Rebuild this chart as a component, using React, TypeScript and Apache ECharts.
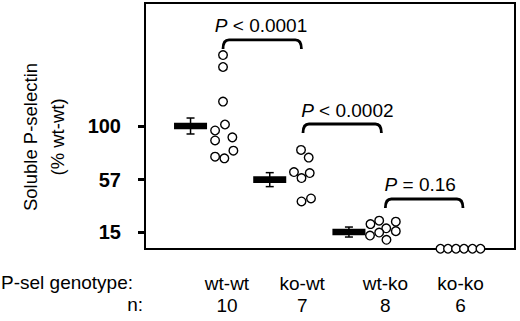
import React, { useEffect, useRef } from "react";
import * as echarts from "echarts";

const FONT = "'Liberation Sans', Arial, Helvetica, sans-serif";

// categories and counts
const genotypes = ["wt-wt", "ko-wt", "wt-ko", "ko-ko"];
const nCounts = [10, 7, 8, 6];
const genotypeLabelPos = [1.05, 2, 3.05, 4];

// y tick labels
const yTicks = [15, 57, 100];

// individual values (% wt-wt) and horizontal jitter (in group units)
const wtwtVals = [156.9, 147.3, 119.6, 101.2, 96.4, 90.9, 88.4, 75.4, 74.1, 80.2];
const wtwtJitter = [0, 0, 0, 0.025, -0.1, 0.118, -0.1, -0.1, 0.017, 0.131];
const kowtVals = [80.8, 74.7, 63.1, 62.3, 58.3, 39.5, 41.9];
const kowtJitter = [-0.015, 0.082, -0.104, 0.095, -0.009, -0.009, 0.111];
const wtkoVals = [21.4, 24.1, 23.3, 18.0, 12.2, 14.6, 15.7, 8.8];
const wtkoJitter = [-0.138, -0.028, 0.182, 0.061, -0.144, -0.028, 0.182, 0.064];
const kokoVals = [1.6, 1.6, 1.6, 1.6, 1.6, 1.6];
const kokoJitter = [-0.254, -0.159, -0.058, 0.043, 0.15, 0.251];

// group means and error (SEM)
const meanGroups = [1, 2, 3];
const meanVals = [100, 57, 15];
const semVals = [6.4, 5.6, 4];

// significance brackets
const bracketFrom = [1.0, 2.01, 3.05];
const bracketTo = [1.99, 3.0, 4.03];
const bracketY = [169, 101.6, 41.5];
const bracketLabelX = [1.48, 2.57, 3.49];
const bracketLabels = ["{i|P} < 0.0001", "{i|P} < 0.0002", "{i|P} = 0.16"];

const BAR_OFFSET = -0.41;
const BAR_WIDTH = 0.417;

function groupPoints(g: number, vals: number[], jit: number[]) {
  return vals.map((v, i) => [g + jit[i], v]);
}

export default function App() {
  const ref = useRef<HTMLDivElement>(null);

  useEffect(() => {
    document.body.style.margin = "0";
    const chart = echarts.init(ref.current!, null, { renderer: "svg" });

    const scatterData = [
      ...groupPoints(1, wtwtVals, wtwtJitter),
      ...groupPoints(2, kowtVals, kowtJitter),
      ...groupPoints(3, wtkoVals, wtkoJitter),
      ...groupPoints(4, kokoVals, kokoJitter),
    ];

    const meanData = meanGroups.map((g, i) => [g + BAR_OFFSET, meanVals[i], semVals[i]]);
    const bracketData = bracketFrom.map((f, i) => [f, bracketTo[i], bracketY[i], bracketLabelX[i], i]);

    const option: any = {
      animation: false,
      backgroundColor: "#fff",
      grid: {
        left: 145,
        right: 5,
        top: 3,
        bottom: 72,
        show: true,
        borderColor: "#000",
        borderWidth: 2,
        containLabel: false,
        outerBoundsMode: "none",
      },
      xAxis: {
        type: "value",
        min: 0.015,
        max: 4.687,
        splitLine: { show: false },
        axisLine: { show: false },
        axisTick: { show: false },
        axisLabel: {
          customValues: genotypeLabelPos,
          margin: 23,
          color: "#000",
          fontSize: 19,
          fontFamily: FONT,
          lineHeight: 22,
          formatter: (v: number) => {
            let idx = 0;
            let best = Infinity;
            genotypeLabelPos.forEach((p, i) => {
              if (Math.abs(p - v) < best) {
                best = Math.abs(p - v);
                idx = i;
              }
            });
            return genotypes[idx] + "\n" + nCounts[idx];
          },
        },
      },
      yAxis: {
        type: "value",
        min: 1.4,
        max: 198.6,
        splitLine: { show: false },
        axisLine: { show: true, lineStyle: { color: "#000", width: 2 } },
        axisTick: {
          show: true,
          customValues: yTicks,
          length: 7,
          lineStyle: { color: "#000", width: 3 },
        },
        axisLabel: {
          customValues: yTicks,
          margin: 24,
          color: "#000",
          fontSize: 20,
          fontWeight: "bold",
          fontFamily: FONT,
        },
      },
      graphic: [
        {
          type: "text",
          x: 43.5,
          y: 137,
          rotation: Math.PI / 2,
          style: {
            text: "Soluble P-selectin\n(% wt-wt)",
            fontSize: 18.5,
            fontFamily: FONT,
            fill: "#000",
            align: "center",
            verticalAlign: "middle",
            lineHeight: 27,
          },
        },
        {
          type: "text",
          x: 1,
          y: 282,
          style: {
            text: "P-sel genotype:",
            fontSize: 19,
            fontFamily: FONT,
            fill: "#000",
            align: "left",
            verticalAlign: "middle",
          },
        },
        {
          type: "text",
          x: 143,
          y: 304,
          style: {
            text: "n:",
            fontSize: 19,
            fontFamily: FONT,
            fill: "#000",
            align: "right",
            verticalAlign: "middle",
          },
        },
      ],
      series: [
        {
          type: "custom",
          z: 3,
          data: meanData,
          encode: { x: 0, y: 1 },
          clip: false,
          renderItem: (params: any, api: any) => {
            const x = api.value(0);
            const m = api.value(1);
            const s = api.value(2);
            const c = api.coord([x, m]);
            const top = api.coord([x, m + s]);
            const bot = api.coord([x, m - s]);
            const w = api.size([BAR_WIDTH, 0])[0];
            const capW = 4;
            return {
              type: "group",
              children: [
                {
                  type: "rect",
                  shape: { x: c[0] - w / 2, y: c[1] - 3.3, width: w, height: 6.6 },
                  style: { fill: "#000" },
                },
                {
                  type: "line",
                  shape: { x1: c[0], y1: top[1], x2: c[0], y2: bot[1] },
                  style: { stroke: "#000", lineWidth: 1.5 },
                },
                {
                  type: "line",
                  shape: { x1: c[0] - capW, y1: top[1], x2: c[0] + capW, y2: top[1] },
                  style: { stroke: "#000", lineWidth: 1.5 },
                },
                {
                  type: "line",
                  shape: { x1: c[0] - capW, y1: bot[1], x2: c[0] + capW, y2: bot[1] },
                  style: { stroke: "#000", lineWidth: 1.5 },
                },
              ],
            };
          },
        },
        {
          type: "scatter",
          z: 5,
          clip: false,
          data: scatterData,
          symbol: "circle",
          symbolSize: 8.6,
          itemStyle: { color: "#fff", borderColor: "#000", borderWidth: 1.4, opacity: 1 },
        },
        {
          type: "custom",
          z: 4,
          clip: false,
          data: bracketData,
          encode: { x: [0, 1, 3], y: 2 },
          renderItem: (params: any, api: any) => {
            const x1 = api.value(0);
            const x2 = api.value(1);
            const y = api.value(2);
            const lx = api.value(3);
            const idx = api.value(4);
            const p1 = api.coord([x1, y]);
            const p2 = api.coord([x2, y]);
            const lp = api.coord([lx, y]);
            const py = p1[1];
            const d = 9;
            const r = 6;
            const pathData =
              `M${p1[0]} ${py + d} Q${p1[0]} ${py} ${p1[0] + r} ${py} ` +
              `L${p2[0] - r} ${py} Q${p2[0]} ${py} ${p2[0]} ${py + d}`;
            return {
              type: "group",
              children: [
                {
                  type: "path",
                  shape: { pathData },
                  style: { stroke: "#000", lineWidth: 2.8, fill: null },
                },
                {
                  type: "text",
                  x: lp[0],
                  y: py - 14,
                  style: {
                    text: bracketLabels[idx],
                    fontSize: 19,
                    fontFamily: FONT,
                    fill: "#000",
                    align: "center",
                    verticalAlign: "middle",
                    rich: {
                      i: { fontStyle: "italic", fontSize: 19, fontFamily: FONT, fill: "#000" },
                    },
                  },
                },
              ],
            };
          },
        },
      ],
    };

    chart.setOption(option);
    return () => chart.dispose();
  }, []);

  return (
    <div
      ref={ref}
      style={{ position: "fixed", left: 0, top: 0, width: 520, height: 321 }}
    />
  );
}
